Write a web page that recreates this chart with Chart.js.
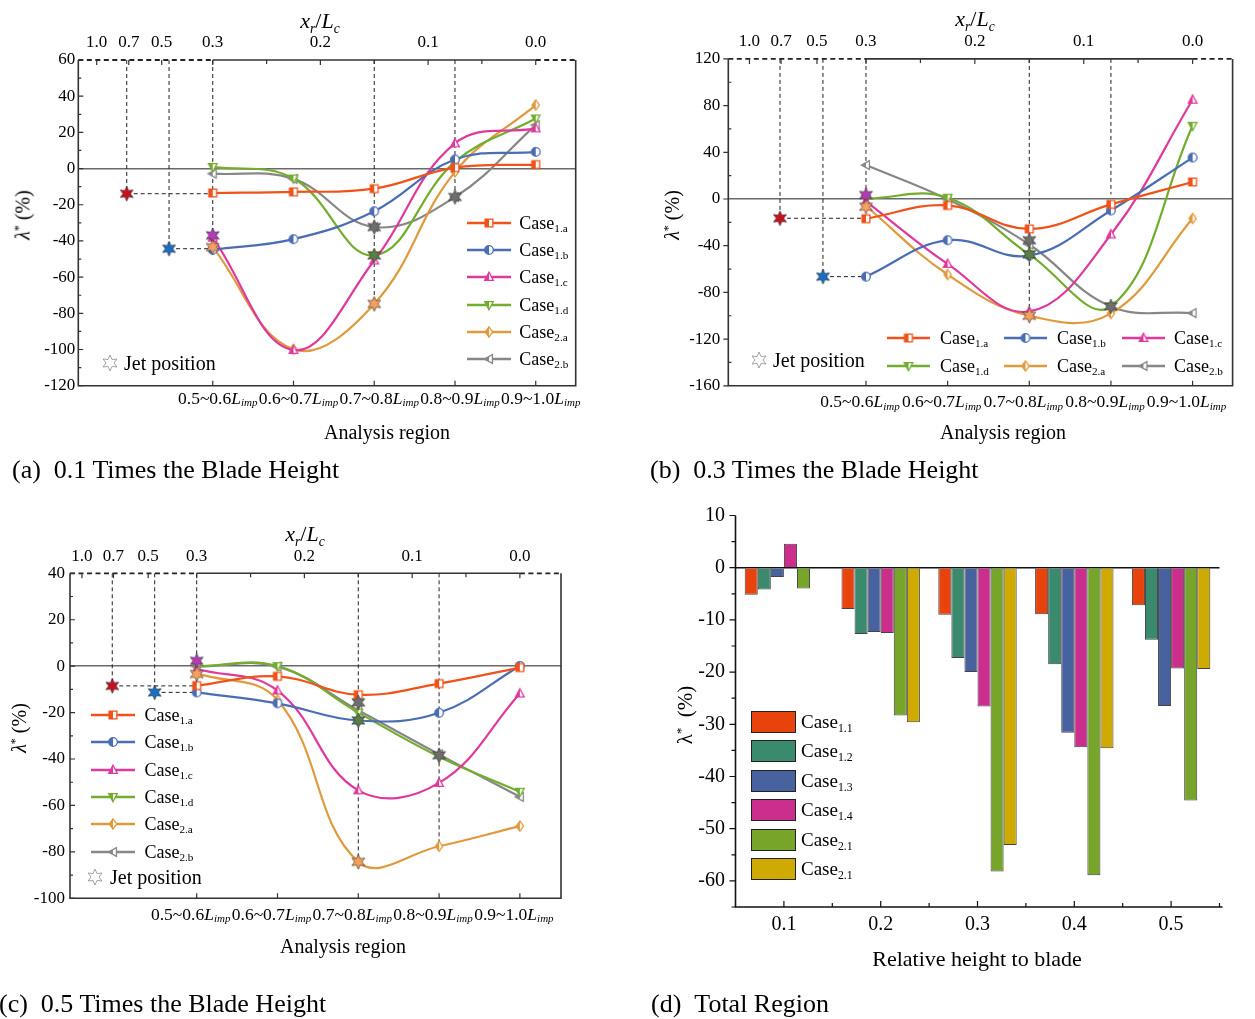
<!DOCTYPE html>
<html><head><meta charset="utf-8"><title>Jet position analysis</title>
<script src="https://cdn.jsdelivr.net/npm/chart.js@4.4.1/dist/chart.umd.min.js"></script>
<style>
html,body{margin:0;padding:0;background:#fff;}
body{position:relative;width:1255px;height:1019px;overflow:hidden;font-family:"Liberation Serif","Times New Roman",serif;color:#000;}
canvas.plot{position:absolute;left:0;top:0;}
.t{position:absolute;white-space:nowrap;line-height:1.15;}
.t sub{font-size:0.62em;vertical-align:-0.32em;line-height:0;}
.t sup{font-size:0.6em;vertical-align:0.55em;line-height:0;}
</style></head><body>
<canvas id="cA" class="plot" width="1255" height="1019"></canvas>
<canvas id="cB" class="plot" width="1255" height="1019"></canvas>
<canvas id="cC" class="plot" width="1255" height="1019"></canvas>
<canvas id="cD" class="plot" width="1255" height="1019"></canvas>
<script>
// ---------------- DATA ----------------
const regionLabels = ['0.5~0.6','0.6~0.7','0.7~0.8','0.8~0.9','0.9~1.0'];
const regionX = [0, 1, 2, 3, 4];
const caseNames = ['1.a','1.b','1.c','1.d','2.a','2.b'];
const topTickLabels = ['1.0','0.7','0.5','0.3','0.2','0.1','0.0'];
const topMinorX = [0.667, 2.0, 3.333];

// (a) 0.1 blade height
const a_case1a = [-13.5, -12.9, -11.1, 0.5, 2.2];
const a_case1b = [-44.9, -39.0, -23.6, 5.0, 9.2];
const a_case1c = [-38.2, -100.3, -50.8, 13.9, 22.2];
const a_case1d = [0.9, -5.5, -48.0, 3.7, 27.7];
const a_case2a = [-43.4, -99.9, -74.8, -1.8, 35.1];
const a_case2b = [-2.8, -5.7, -32.3, -15.7, 24.0];
const a_topTickX = [-1.437, -1.04, -0.632, 0, 1.333, 2.667, 4];
const a_jetX = [-1.065, -0.541, 0, 0, 2, 2, 2, 3];
const a_jetY = [-13.9, -44.3, -36.9, -43.4, -32.3, -48.0, -74.8, -15.7];
const a_jetKind = ['red','blue','magenta','orange','gray','green','orange','gray'];
const a_guides = [[-1.065,60,-1.065,-13.9],[-1.065,-13.9,0,-13.9],[-0.541,60,-0.541,-44.3],[-0.541,-44.3,0,-44.3],[0,60,0,-44.9],[2,60,2,-74.8],[3,60,3,-15.7]];

// (b) 0.3 blade height
const b_case1a = [-16.9, -5.5, -25.6, -4.6, 14.6];
const b_case1b = [-66.5, -35.3, -48.5, -9.8, 35.5];
const b_case1c = [-2.0, -55.6, -96.3, -30.4, 85.0];
const b_case1d = [0.3, 1.1, -47.5, -92.0, 62.7];
const b_case2a = [-6.0, -64.7, -100.0, -98.0, -16.7];
const b_case2b = [29.1, -0.3, -39.0, -92.0, -97.7];
const b_topTickX = [-1.427, -1.04, -0.60, 0, 1.333, 2.667, 4];
const b_jetX = [-1.053, -0.527, 0, 0, 2, 2, 2, 3];
const b_jetY = [-16.5, -66.5, 3.4, -6.6, -35.3, -47.5, -100.0, -92.0];
const b_jetKind = ['red','blue','magenta','orange','gray','green','orange','gray'];
const b_guides = [[-1.053,120,-1.053,-16.5],[-1.053,-16.5,0,-16.5],[-0.527,120,-0.527,-66.5],[-0.527,-66.5,0,-66.5],[0,120,0,3.4],[2,120,2,-100],[3,120,3,4]];

// (c) 0.5 blade height
const c_case1a = [-8.4, -4.4, -12.3, -7.5, -0.6];
const c_case1b = [-11.3, -16.0, -23.4, -20.1, 0.1];
const c_case1c = [-1.2, -10.5, -53.5, -50.3, -11.8];
const c_case1d = [0.0, 0.0, -20.0, -39.0, -54.1];
const c_case2a = [-3.1, -14.6, -84.3, -77.6, -68.9];
const c_case2b = [-0.2, -0.2, -19.0, -38.0, -56.3];
const c_topTickX = [-1.42, -1.03, -0.60, 0, 1.333, 2.667, 4];
const c_jetX = [-1.045, -0.52, 0, 0, 2, 2, 2, 3];
const c_jetY = [-8.5, -11.3, 2.3, -3.4, -15.6, -23.4, -84.3, -38.4];
const c_jetKind = ['red','blue','magenta','orange','gray','green','orange','gray'];
const c_guides = [[-1.045,40,-1.045,-8.5],[-1.045,-8.5,0,-8.5],[-0.52,40,-0.52,-11.3],[-0.52,-11.3,0,-11.3],[0,40,0,-8.4],[2,40,2,-84.3],[3,40,3,-77.6]];

// (d) total region
const d_heights = ['0.1','0.2','0.3','0.4','0.5'];
const d_names = ['1.1','1.2','1.3','1.4','2.1','2.1'];
const d_case11 = [-5.2, -7.9, -9.0, -8.9, -7.2];
const d_case12 = [-4.2, -12.7, -17.3, -18.5, -13.8];
const d_case13 = [-1.8, -12.3, -20.0, -31.6, -26.5];
const d_case14 = [4.6, -12.5, -26.6, -34.4, -19.3];
const d_case21 = [-4.0, -28.3, -58.2, -58.9, -44.6];
const d_case21b = [0.0, -29.6, -53.1, -34.6, -19.4];
const d_yTicks = [-60, -50, -40, -30, -20, -10, 0, 10];

// ---------------- STYLE ----------------
const SERIF = '"Liberation Serif", "Times New Roman", serif';
Chart.defaults.font.family = SERIF;
Chart.defaults.color = '#000';
const caseColors = ['#f0521a','#4a6db3','#e0399d','#72ad2e','#e09a3c','#878787'];
const caseShapes = ['square','circle','triUp','triDown','diamond','triLeft'];
const jetColors = {red:'#c4111f', blue:'#1b6fc2', magenta:'#b23cb6', orange:'#f3a060', gray:'#6e6e6e', green:'#5d7d46'};
const barColors = ['#e8430c','#3a8b6e','#4862a0','#cc2e8e','#76a529','#ceaa02'];
const YAXW = 60, TOPH = 30, DXH = 40;

function markerCanvas(shape, color) {
  const s = 14, c = document.createElement('canvas'); c.width = c.height = s;
  const g = c.getContext('2d'), cx = 7, cy = 7, r = 4.3;
  function path() {
    g.beginPath();
    switch (shape) {
      case 'square': g.rect(cx - 3.9, cy - 3.9, 7.8, 7.8); break;
      case 'circle': g.arc(cx, cy, r, 0, Math.PI * 2); break;
      case 'triUp': g.moveTo(cx, cy - r * 1.1); g.lineTo(cx + r, cy + r * 0.8); g.lineTo(cx - r, cy + r * 0.8); g.closePath(); break;
      case 'triDown': g.moveTo(cx, cy + r * 1.1); g.lineTo(cx + r, cy - r * 0.8); g.lineTo(cx - r, cy - r * 0.8); g.closePath(); break;
      case 'diamond': g.moveTo(cx, cy - r * 1.2); g.lineTo(cx + r * 0.85, cy); g.lineTo(cx, cy + r * 1.2); g.lineTo(cx - r * 0.85, cy); g.closePath(); break;
      case 'triLeft': g.moveTo(cx - r * 1.1, cy); g.lineTo(cx + r * 0.8, cy - r); g.lineTo(cx + r * 0.8, cy + r); g.closePath(); break;
    }
  }
  path(); g.fillStyle = '#fff'; g.fill();
  g.save(); path(); g.clip(); g.fillStyle = color; g.fillRect(0, 0, cx, s); g.restore();
  path(); g.lineWidth = 1.3; g.strokeStyle = color; g.stroke();
  return c;
}
function starCanvas(fill, stroke, R) {
  const s = Math.ceil(R * 2 + 4), c = document.createElement('canvas'); c.width = c.height = s;
  const g = c.getContext('2d'), cx = s / 2, cy = s / 2;
  g.beginPath();
  for (let i = 0; i < 12; i++) {
    const r = i % 2 ? R * 0.5 : R, ang = -Math.PI / 2 + i * Math.PI / 6;
    g.lineTo(cx + r * Math.cos(ang), cy + r * Math.sin(ang));
  }
  g.closePath(); g.fillStyle = fill; g.fill(); g.lineWidth = 0.8; g.strokeStyle = stroke; g.stroke();
  return c;
}
const markers = caseShapes.map((s, k) => markerCanvas(s, caseColors[k]));
const starImgs = {};
Object.keys(jetColors).forEach(k => starImgs[k] = starCanvas(jetColors[k], 'rgba(40,40,40,0.7)', 7.5));

// ---------------- PANELS ----------------
const panels = [
  {id:'A', canvas:'cA', area:{l:78.3, r:575.7, t:60, b:385.7}, xMin:-1.665, xMax:4.495, yMin:-120, yMax:60, yStep:20,
   series:[a_case1a,a_case1b,a_case1c,a_case1d,a_case2a,a_case2b], topX:a_topTickX, jetX:a_jetX, jetY:a_jetY, jetKind:a_jetKind, guides:a_guides,
   labelOffset:13.5, labelShift:5, yPad:3, majorOut:false},
  {id:'B', canvas:'cB', area:{l:728.3, r:1232.6, t:58.9, b:385.8}, xMin:-1.686, xMax:4.49, yMin:-160, yMax:120, yStep:40,
   series:[b_case1a,b_case1b,b_case1c,b_case1d,b_case2a,b_case2b], topX:b_topTickX, jetX:b_jetX, jetY:b_jetY, jetKind:b_jetKind, guides:b_guides,
   labelOffset:17, labelShift:-6, yPad:8, majorOut:true},
  {id:'C', canvas:'cC', area:{l:70, r:561, t:573.3, b:898.3}, xMin:-1.568, xMax:4.509, yMin:-100, yMax:40, yStep:20,
   series:[c_case1a,c_case1b,c_case1c,c_case1d,c_case2a,c_case2b], topX:c_topTickX, jetX:c_jetX, jetY:c_jetY, jetKind:c_jetKind, guides:c_guides,
   labelOffset:17, labelShift:-6, yPad:5, majorOut:false}
];

function linePlugin(P) {
  return { id: 'decor' + P.id, afterDraw(chart) {
    const ctx = chart.ctx, a = chart.chartArea, xs = chart.scales.x, ys = chart.scales.y;
    ctx.save();
    ctx.strokeStyle = '#333'; ctx.lineWidth = 1.6; ctx.setLineDash([]);
    ctx.beginPath(); ctx.moveTo(a.left, a.top); ctx.lineTo(a.left, a.bottom); ctx.lineTo(a.right, a.bottom); ctx.lineTo(a.right, a.top); ctx.stroke();
    ctx.beginPath(); ctx.moveTo(xs.getPixelForValue(regionX[0]), a.top); ctx.lineTo(xs.getPixelForValue(regionX[4]), a.top); ctx.stroke();
    ctx.lineWidth = 1.2; ctx.beginPath();
    const n = Math.round((P.yMax - P.yMin) / (P.yStep / 2));
    for (let i = 0; i <= n; i++) {
      const v = P.yMin + i * P.yStep / 2, py = ys.getPixelForValue(v), major = i % 2 === 0;
      if (major && P.majorOut) { ctx.moveTo(a.left - 5, py); ctx.lineTo(a.left, py); }
      else { ctx.moveTo(a.left, py); ctx.lineTo(a.left + (major ? 5 : 3), py); }
    }
    regionX.forEach(v => { const px = xs.getPixelForValue(v); ctx.moveTo(px, a.bottom); ctx.lineTo(px, a.bottom - 5); });
    P.topX.forEach(v => { const px = xs.getPixelForValue(v); ctx.moveTo(px, a.top); ctx.lineTo(px, a.top + 5); });
    topMinorX.forEach(v => { const px = xs.getPixelForValue(v); ctx.moveTo(px, a.top); ctx.lineTo(px, a.top + 4); });
    ctx.stroke();
    // rich bottom labels
    ctx.fillStyle = '#000'; ctx.textBaseline = 'middle'; ctx.textAlign = 'left';
    const y = a.bottom + P.labelOffset;
    regionLabels.forEach((lab, i) => {
      const px = xs.getPixelForValue(regionX[i]) + P.labelShift;
      ctx.font = '17.5px ' + SERIF; const w1 = ctx.measureText(lab).width;
      ctx.font = 'italic 17.5px ' + SERIF; const w2 = ctx.measureText('L').width;
      ctx.font = 'italic 11px ' + SERIF; const w3 = ctx.measureText('imp').width;
      let x0 = px - (w1 + w2 + w3) / 2;
      ctx.font = '17.5px ' + SERIF; ctx.fillText(lab, x0, y); x0 += w1;
      ctx.font = 'italic 17.5px ' + SERIF; ctx.fillText('L', x0, y); x0 += w2;
      ctx.font = 'italic 11px ' + SERIF; ctx.fillText('imp', x0, y + 4);
    });
    ctx.restore();
  }};
}

function buildLine(P) {
  const datasets = [];
  P.guides.forEach(g => datasets.push({data:[{x:g[0], y:g[1]}, {x:g[2], y:g[3]}], borderColor:'#222', borderWidth:1, borderDash:[4,3], pointRadius:0, tension:0, order:3, clip:false}));
  [[P.xMin, regionX[0]], [regionX[4], P.xMax]].forEach(s => datasets.push({data:[{x:s[0], y:P.yMax}, {x:s[1], y:P.yMax}], borderColor:'#222', borderWidth:1.8, borderDash:[5,3.5], pointRadius:0, tension:0, order:3, clip:false}));
  P.series.forEach((vals, k) => datasets.push({label:'Case' + caseNames[k], data: vals.map((v, i) => ({x: regionX[i], y: v})), borderColor: caseColors[k], borderWidth: 2.2, tension: 0.4, pointStyle: markers[k], pointRadius: 5, order: 2}));
  datasets.push({data: P.jetX.map((x, i) => ({x: x, y: P.jetY[i]})), showLine:false, pointStyle: P.jetKind.map(k => starImgs[k]), pointRadius: 8, order: 1});
  const A = P.area;
  new Chart(document.getElementById(P.canvas), {
    type: 'line',
    data: {datasets},
    options: {
      responsive:false, animation:false, devicePixelRatio:1, events:[],
      layout:{padding:{left:A.l - YAXW, top:A.t - TOPH, right:1255 - A.r, bottom:1019 - A.b}},
      plugins:{legend:{display:false}, tooltip:{enabled:false}},
      scales:{
        x:{type:'linear', min:P.xMin, max:P.xMax, ticks:{display:false}, grid:{display:false, drawTicks:false}, border:{display:false}, afterFit:s => {s.height = 0;}},
        x2:{type:'linear', position:'top', min:P.xMin, max:P.xMax,
            afterBuildTicks:s => {s.ticks = P.topX.map(v => ({value:v}));},
            ticks:{autoSkip:false, maxRotation:0, minRotation:0, padding:7, font:{size:17}, color:'#000', callback:(v, i) => topTickLabels[i]},
            grid:{display:false, drawTicks:false}, border:{display:false}, afterFit:s => {s.height = TOPH;}},
        y:{type:'linear', min:P.yMin, max:P.yMax,
           afterBuildTicks:s => {const t = []; for (let v = P.yMin; v <= P.yMax; v += P.yStep) t.push({value:v}); s.ticks = t;},
           ticks:{font:{size:17}, color:'#000', padding:P.yPad},
           grid:{color:c => (c.tick && c.tick.value === 0) ? '#6a6a6a' : 'rgba(0,0,0,0)', lineWidth:1.5, drawTicks:false},
           border:{display:false}, afterFit:s => {s.width = YAXW;}}
      }
    },
    plugins:[linePlugin(P)]
  });
}
panels.forEach(buildLine);

// ---- panel d (bars) ----
const D = {l:735.5, r:1219.5, t:515.5, b:907};
const barPlugin = { id:'decorD', afterDraw(chart) {
  const ctx = chart.ctx, a = chart.chartArea, xs = chart.scales.x, ys = chart.scales.y;
  ctx.save(); ctx.strokeStyle = '#111'; ctx.lineWidth = 1.6;
  ctx.beginPath(); ctx.moveTo(a.left, a.top); ctx.lineTo(a.left, a.bottom); ctx.lineTo(a.right + 3, a.bottom); ctx.stroke();
  ctx.lineWidth = 1.2; ctx.beginPath();
  for (let v = -65; v <= 10; v += 5) { const py = ys.getPixelForValue(v), major = v % 10 === 0; ctx.moveTo(a.left, py); ctx.lineTo(a.left - (major ? 6 : 4), py); }
  const half = (xs.getPixelForValue(1) - xs.getPixelForValue(0)) / 2;
  d_heights.forEach((h, i) => { const px = xs.getPixelForValue(i); ctx.moveTo(px, a.bottom); ctx.lineTo(px, a.bottom - 6); ctx.moveTo(px + half, a.bottom); ctx.lineTo(px + half, a.bottom - 4); });
  ctx.stroke(); ctx.restore();
}};
const dSeries = [d_case11, d_case12, d_case13, d_case14, d_case21, d_case21b];
new Chart(document.getElementById('cD'), {
  type:'bar',
  data:{labels:d_heights, datasets:dSeries.map((vals, k) => ({label:'Case' + d_names[k], data:vals, backgroundColor:barColors[k], borderColor:'rgba(35,35,35,0.85)', borderWidth:1, categoryPercentage:0.81, barPercentage:1.0}))},
  options:{
    responsive:false, animation:false, devicePixelRatio:1, events:[],
    layout:{padding:{left:D.l - YAXW, top:D.t, right:1255 - D.r, bottom:1019 - D.b - DXH}},
    plugins:{legend:{display:false}, tooltip:{enabled:false}},
    scales:{
      x:{type:'category', offset:true, grid:{display:false, drawTicks:false}, border:{display:false}, ticks:{font:{size:20}, color:'#000', padding:6, maxRotation:0}, afterFit:s => {s.height = DXH;}},
      y:{type:'linear', min:-65, max:10, afterBuildTicks:s => {s.ticks = d_yTicks.map(v => ({value:v}));},
         ticks:{font:{size:20}, color:'#000', padding:10.5},
         grid:{color:c => (c.tick && c.tick.value === 0) ? '#111' : 'rgba(0,0,0,0)', lineWidth:1.5, drawTicks:false},
         border:{display:false}, afterFit:s => {s.width = YAXW;}}
    }
  },
  plugins:[barPlugin]
});

// ---------------- HTML TEXT ----------------
function addText(html, x, y, size, anchor, rot) {
  const d = document.createElement('div'); d.className = 't'; d.innerHTML = html;
  d.style.left = x + 'px'; d.style.top = y + 'px'; d.style.fontSize = size + 'px';
  let tf = anchor === 'left' ? 'translate(0,-50%)' : 'translate(-50%,-50%)';
  if (rot) tf += ' rotate(' + rot + 'deg)';
  d.style.transform = tf; document.body.appendChild(d); return d;
}
function placeCanvas(c, x, y) { c.style.position = 'absolute'; c.style.left = x + 'px'; c.style.top = (y - c.height / 2) + 'px'; document.body.appendChild(c); }
function legendSymbol(k, w) {
  const c = document.createElement('canvas'); c.width = w; c.height = 14; const g = c.getContext('2d');
  g.strokeStyle = caseColors[k]; g.lineWidth = 2.5; g.beginPath(); g.moveTo(0, 7); g.lineTo(w, 7); g.stroke();
  g.drawImage(markers[k], w / 2 - 7, 0); return c;
}
const xrLc = '<i>x</i><sub><i>r</i></sub>/<i>L</i><sub><i>c</i></sub>';
const lamI = '<i>λ</i><sup>*</sup> (%)';
// panel a
addText(xrLc, 320, 21, 22);
addText(lamI, 23, 215, 20, 'c', -90);
addText('Analysis region', 387, 432, 20);
addText('(a)&nbsp;&nbsp;0.1 Times the Blade Height', 12, 470, 26, 'left');
// panel b
addText(xrLc, 975, 19, 22);
addText(lamI, 672, 215, 20, 'c', -90);
addText('Analysis region', 1003, 432, 20);
addText('(b)&nbsp;&nbsp;0.3 Times the Blade Height', 650, 470, 26, 'left');
// panel c
addText(xrLc, 305, 534, 22);
addText(lamI, 19, 728, 20, 'c', -90);
addText('Analysis region', 343, 946, 20);
addText('(c)&nbsp;&nbsp;0.5 Times the Blade Height', -1, 1004, 26, 'left');
// panel d
addText('λ<sup>*</sup>&nbsp;&nbsp;(%)', 685, 715, 21, 'c', -90);
addText('Relative height to blade', 977, 959, 22);
addText('(d)&nbsp;&nbsp;Total Region', 651, 1004, 26, 'left');

// legends a & c (column)
[[466.7, 519.3, 223, 27.2], [91, 144.4, 715, 27.3]].forEach(L => {
  caseNames.forEach((nm, k) => {
    const y = L[2] + k * L[3];
    placeCanvas(legendSymbol(k, 44), L[0], y);
    addText('Case<sub>' + nm + '</sub>', L[1], y, 18, 'left');
  });
});
// legend b (3 x 2)
const bColsLine = [887, 1004, 1122], bColsText = [940, 1057, 1174], bRows = [338.3, 365.7];
caseNames.forEach((nm, k) => {
  const col = k % 3, row = Math.floor(k / 3);
  placeCanvas(legendSymbol(k, 43), bColsLine[col], bRows[row]);
  addText('Case<sub>' + nm + '</sub>', bColsText[col], bRows[row], 18, 'left');
});
// jet position legends
[[110, 124, 363], [759, 773, 360], [95, 110, 877]].forEach(J => {
  const s = starCanvas('#fff', '#8a8a8a', 8);
  s.style.position = 'absolute'; s.style.left = (J[0] - s.width / 2) + 'px'; s.style.top = (J[2] - s.height / 2) + 'px';
  document.body.appendChild(s);
  addText('Jet position', J[1], J[2], 20, 'left');
});
// legend d
d_names.forEach((nm, k) => {
  const y = 721.5 + k * 29.5;
  const b = document.createElement('div');
  b.style.cssText = 'position:absolute;left:751px;top:' + (y - 11) + 'px;width:43px;height:20px;border:1px solid #222;background:' + barColors[k] + ';';
  document.body.appendChild(b);
  addText('Case<sub>' + nm + '</sub>', 801, y, 19, 'left');
});
</script>
</body></html>
